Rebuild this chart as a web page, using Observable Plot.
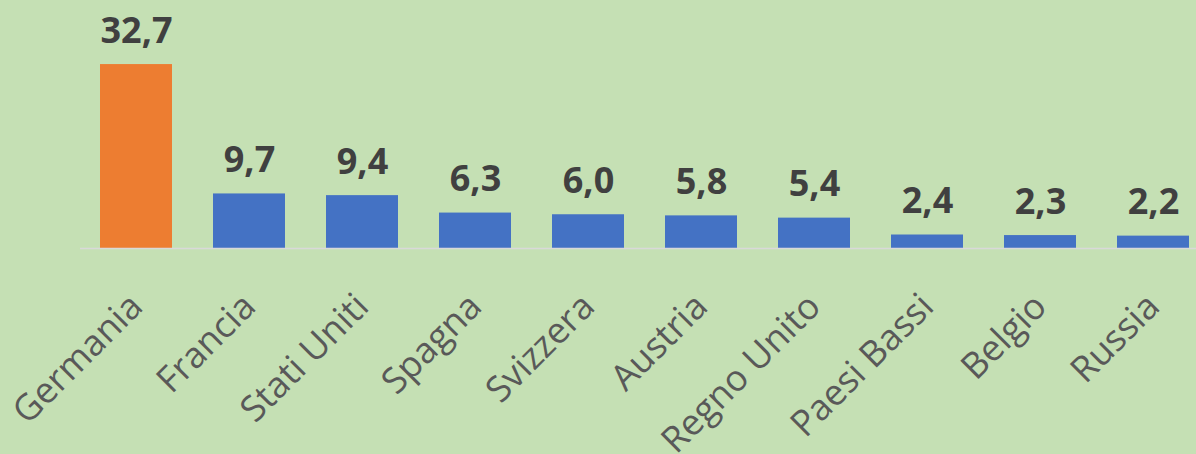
<!DOCTYPE html>
<html><head><meta charset="utf-8">
<script src="https://cdn.jsdelivr.net/npm/d3@7"></script>
<script src="https://cdn.jsdelivr.net/npm/@observablehq/plot@0.6"></script>
<style>
html,body{margin:0;padding:0;background:#C5E0B4;overflow:hidden}
#chart{width:1196px;height:454px;overflow:hidden}
</style></head><body><div id="chart"></div>
<script>
const paesi = ["Germania","Francia","Stati Uniti","Spagna","Svizzera","Austria","Regno Unito","Paesi Bassi","Belgio","Russia"];
const valori = [32.7, 9.7, 9.4, 6.3, 6.0, 5.8, 5.4, 2.4, 2.3, 2.2];
const evidenziato = "Germania";

const data = paesi.map((p, i) => ({paese: p, valore: valori[i]}));
const fmt = v => v.toFixed(1).replace(".", ",");

const plot = Plot.plot({
  width: 1210, height: 454,
  marginLeft: 80, marginRight: 0, marginTop: 23, marginBottom: 206,
  style: {background: "transparent", fontFamily: "'Open Sans', sans-serif", overflow: "visible", maxWidth: "none"},
  x: {domain: paesi, paddingInner: 0.36, paddingOuter: 0.18, label: null},
  y: {domain: [0, 40], axis: null},
  marks: [
    Plot.barY(data, {x: "paese", y: "valore", fill: d => d.paese === evidenziato ? "#ED7D31" : "#4472C4"}),
    Plot.ruleY([0], {stroke: "#D9D9D9", strokeWidth: 1.5}),
    Plot.text(data, {x: "paese", y: "valore", text: d => fmt(d.valore), lineAnchor: "bottom", dy: -22,
      fontSize: 36, fontWeight: "bold", fill: "#404040"}),
    Plot.axisX({tickSize: 0, tickRotate: -45, tickPadding: 52, fontSize: 36, color: "#595959", label: null})
  ]
});
document.getElementById("chart").appendChild(plot);
</script></body></html>
